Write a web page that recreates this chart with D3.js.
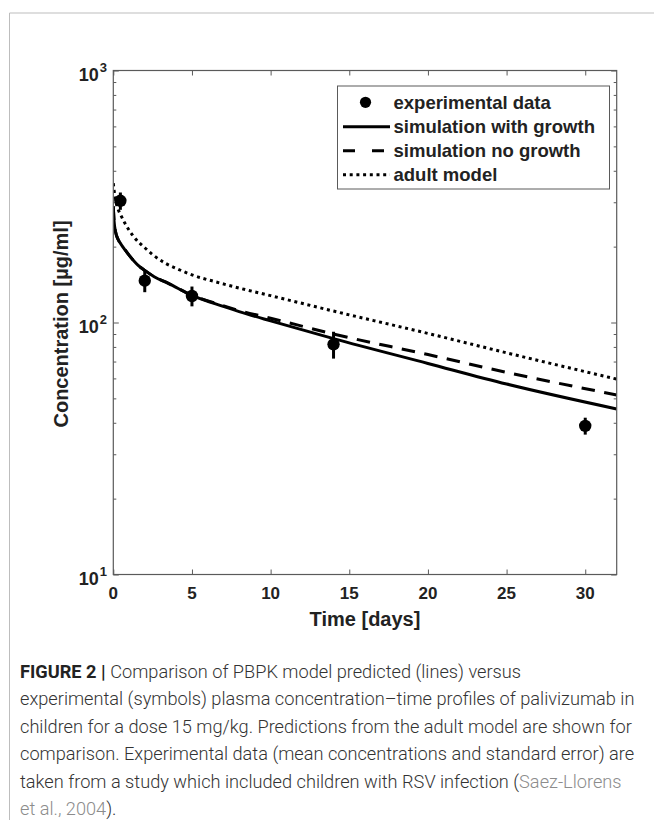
<!DOCTYPE html>
<html>
<head>
<meta charset="utf-8">
<script src="https://cdn.jsdelivr.net/npm/d3@7"></script>
<style>
  html, body { margin: 0; padding: 0; background: #fff; }
  svg { display: block; }
</style>
</head>
<body>
<svg id="chart" width="654" height="820"></svg>
<script>
// ---------------- data ----------------
const growthT   = [0, 0.05, 0.15, 0.3, 0.5, 0.75, 1, 1.6, 2, 2.6, 3.5, 5, 6.5, 8, 10, 14, 20, 25, 32];
const growthC   = [289, 252, 228, 214, 204, 194, 185, 168, 161, 152, 143, 128, 118.5, 110.5, 101.5, 86.3, 68.8, 57, 45.4];
const noGrowthT = [0, 0.05, 0.15, 0.3, 0.5, 0.75, 1, 1.6, 2, 2.6, 3.5, 5, 6.5, 8, 10, 14, 20, 25, 32];
const noGrowthC = [289, 252, 228, 214, 204, 194, 185, 168, 161, 152, 143, 128.3, 119.2, 111.5, 104, 90, 74.6, 63.4, 51.6];
const adultT    = [0, 0.05, 0.15, 0.3, 0.5, 0.75, 1.3, 2, 2.5, 3.3, 4, 5, 6.5, 8, 10, 14, 20, 25, 32];
const adultC    = [357, 335, 305, 282, 265, 247, 219, 198, 186, 172, 164, 154.5, 145, 137, 127.8, 111, 90.5, 75.8, 59.6];
const expT      = [0.45, 2, 5, 14, 30];
const expC      = [304, 146.5, 127.4, 81.9, 38.9];
const expSE     = [24, 14.6, 11.5, 10, 3];

const xTicks      = [0, 5, 10, 15, 20, 25, 30];
const yMajorTicks = [10, 100, 1000];
const yMajorExp   = ["1", "2", "3"];
const yMinorTicks = [20, 30, 40, 50, 60, 70, 80, 90, 200, 300, 400, 500, 600, 700, 800, 900];

const legendLabels = ["experimental data", "simulation with growth", "simulation no growth", "adult model"];
const xTitle = "Time [days]";
const yTitle = "Concentration [µg/ml]";

const captionLines = [
  [{t: "FIGURE 2 | ", b: true}, {t: "Comparison of PBPK model predicted (lines) versus"}],
  [{t: "experimental (symbols) plasma concentration–time profiles of palivizumab in"}],
  [{t: "children for a dose 15 mg/kg. Predictions from the adult model are shown for"}],
  [{t: "comparison. Experimental data (mean concentrations and standard error) are"}],
  [{t: "taken from a study which included children with RSV infection ("}, {t: "Saez-Llorens", g: true}],
  [{t: "et al., 2004", g: true}, {t: ")."}]
];
const captionTargetWidths = [605, 615, 617, 606]; // lines 2-5, used only to pick one font size

// ---------------- layout ----------------
const L = 113.3, R = 616.7, T = 70.5, B = 574.5;
const svg = d3.select("#chart");
const x = d3.scaleLinear().domain([0, 32]).range([L, R]);
const y = d3.scaleLog().domain([10, 1000]).range([B, T]);
const chartFont = "'Liberation Sans', Arial, Helvetica, sans-serif";
const axisColor = "#5a5a5a";

// figure frame (top and left rule)
svg.append("line").attr("x1", 9.5).attr("x2", 654).attr("y1", 13).attr("y2", 13)
  .attr("stroke", "#bdbdbd").attr("stroke-width", 1);
svg.append("line").attr("x1", 9.5).attr("x2", 9.5).attr("y1", 13).attr("y2", 820)
  .attr("stroke", "#bdbdbd").attr("stroke-width", 1);

// axes ticks (inside, MATLAB style)
function styleAxis(g) {
  g.select(".domain").remove();
  g.selectAll(".tick line").attr("stroke", axisColor).attr("stroke-width", 1);
  g.selectAll(".tick text").remove();
}
svg.append("g").attr("transform", `translate(0,${B})`)
  .call(d3.axisBottom(x).tickValues(xTicks).tickSizeInner(-5).tickSizeOuter(0)).call(styleAxis);
svg.append("g").attr("transform", `translate(0,${T})`)
  .call(d3.axisTop(x).tickValues(xTicks).tickSizeInner(-5).tickSizeOuter(0)).call(styleAxis);
svg.append("g").attr("transform", `translate(${L},0)`)
  .call(d3.axisLeft(y).tickValues(yMajorTicks).tickSizeInner(-5.5).tickSizeOuter(0)).call(styleAxis);
svg.append("g").attr("transform", `translate(${L},0)`)
  .call(d3.axisLeft(y).tickValues(yMinorTicks).tickSizeInner(-3).tickSizeOuter(0)).call(styleAxis);
svg.append("g").attr("transform", `translate(${R},0)`)
  .call(d3.axisRight(y).tickValues(yMajorTicks).tickSizeInner(-5.5).tickSizeOuter(0)).call(styleAxis);
svg.append("g").attr("transform", `translate(${R},0)`)
  .call(d3.axisRight(y).tickValues(yMinorTicks).tickSizeInner(-3).tickSizeOuter(0)).call(styleAxis);

// x tick labels
svg.append("g").selectAll("text").data(xTicks).join("text")
  .attr("x", d => x(d)).attr("y", B + 24)
  .attr("text-anchor", "middle")
  .attr("font-family", chartFont).attr("font-weight", "bold").attr("font-size", 17)
  .attr("fill", "#222").text(d => d);

// y tick labels 10^n
yMajorTicks.forEach((v, i) => {
  const t = svg.append("text")
    .attr("x", 107).attr("y", y(v) + 10)
    .attr("text-anchor", "end")
    .attr("font-family", chartFont).attr("font-weight", "bold").attr("fill", "#222");
  t.append("tspan").attr("font-size", 18).text("10");
  t.append("tspan").attr("font-size", 13).attr("dy", -8.5).attr("dx", 1).text(yMajorExp[i]);
});

// axis titles
svg.append("text").attr("x", (L + R) / 2).attr("y", B + 51)
  .attr("text-anchor", "middle").attr("font-family", chartFont)
  .attr("font-weight", "bold").attr("font-size", 20).attr("fill", "#222").text(xTitle);
svg.append("text").attr("transform", `translate(68,${324}) rotate(-90)`)
  .attr("text-anchor", "middle").attr("font-family", chartFont)
  .attr("font-weight", "bold").attr("font-size", 20).attr("fill", "#222").text(yTitle);

// clip
svg.append("clipPath").attr("id", "plotclip").append("rect")
  .attr("x", L).attr("y", T - 10).attr("width", R - L).attr("height", B - T + 10);

const line = d3.line().x(d => x(d[0])).y(d => y(d[1])).curve(d3.curveMonotoneX);
const plot = svg.append("g").attr("clip-path", "url(#plotclip)");

plot.append("path").datum(adultT.map((t, i) => [t, adultC[i]]))
  .attr("d", line).attr("fill", "none").attr("stroke", "#000")
  .attr("stroke-width", 3).attr("stroke-dasharray", "3,3.7");
plot.append("path").datum(noGrowthT.map((t, i) => [t, noGrowthC[i]]))
  .attr("d", line).attr("fill", "none").attr("stroke", "#000")
  .attr("stroke-width", 3).attr("stroke-dasharray", "13.5,9.5");
plot.append("path").datum(growthT.map((t, i) => [t, growthC[i]]))
  .attr("d", line).attr("fill", "none").attr("stroke", "#000")
  .attr("stroke-width", 3);

// experimental data with error bars
const exp = expT.map((t, i) => ({t, c: expC[i], se: expSE[i]}));
svg.append("g").selectAll("line").data(exp).join("line")
  .attr("x1", d => x(d.t)).attr("x2", d => x(d.t))
  .attr("y1", d => y(d.c + d.se)).attr("y2", d => y(d.c - d.se))
  .attr("stroke", "#000").attr("stroke-width", 3);
svg.append("g").selectAll("circle").data(exp).join("circle")
  .attr("cx", d => x(d.t)).attr("cy", d => y(d.c)).attr("r", 6.2).attr("fill", "#000");

// axis box
svg.append("rect").attr("x", L).attr("y", T).attr("width", R - L).attr("height", B - T)
  .attr("fill", "none").attr("stroke", axisColor).attr("stroke-width", 1.2);

// legend
const lg = svg.append("g");
lg.append("rect").attr("x", 337.5).attr("y", 86).attr("width", 272).attr("height", 103)
  .attr("fill", "#fff").attr("stroke", axisColor).attr("stroke-width", 1);
const rowBase = [109.3, 133.3, 157.3, 181.3];
legendLabels.forEach((lab, i) => {
  lg.append("text").attr("x", 393.5).attr("y", rowBase[i])
    .attr("font-family", chartFont).attr("font-weight", "bold").attr("font-size", 18.5)
    .attr("fill", "#222").text(lab);
});
lg.append("circle").attr("cx", 365.5).attr("cy", rowBase[0] - 7).attr("r", 5.6).attr("fill", "#000");
lg.append("line").attr("x1", 343).attr("x2", 390).attr("y1", rowBase[1] - 6.5).attr("y2", rowBase[1] - 6.5)
  .attr("stroke", "#000").attr("stroke-width", 3);
lg.append("line").attr("x1", 343).attr("x2", 384).attr("y1", rowBase[2] - 6.5).attr("y2", rowBase[2] - 6.5)
  .attr("stroke", "#000").attr("stroke-width", 3).attr("stroke-dasharray", "12,17");
lg.append("line").attr("x1", 343).attr("x2", 390).attr("y1", rowBase[3] - 6.5).attr("y2", rowBase[3] - 6.5)
  .attr("stroke", "#000").attr("stroke-width", 3).attr("stroke-dasharray", "3,3.7");

// caption (single font size chosen so the long lines reach the right margin)
const capFont = "Roboto, 'Liberation Sans', Arial, sans-serif";
const capTexts = captionLines.map((parts, i) => {
  const t = svg.append("text").attr("x", 20).attr("y", 678 + i * 27.4)
    .attr("font-family", capFont).attr("font-size", 17).attr("font-weight", 300)
    .attr("fill", "#333");
  parts.forEach(p => {
    const s = t.append("tspan").text(p.t);
    if (p.b) s.attr("font-weight", "bold").attr("fill", "#222");
    if (p.g) s.attr("fill", "#8c8c8c");
  });
  return t;
});
const natural = d3.mean([1, 2, 3, 4], i => capTexts[i].node().getComputedTextLength());
const capSize = Math.min(19, 17 * d3.mean(captionTargetWidths) / natural);
capTexts.forEach(t => t.attr("font-size", capSize));
</script>
</body>
</html>
